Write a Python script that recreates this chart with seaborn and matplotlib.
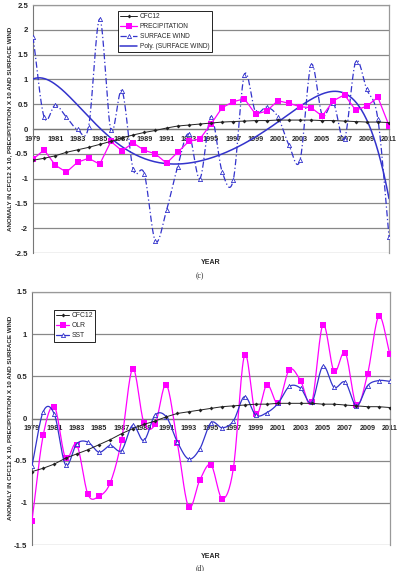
import numpy as np
import pandas as pd
import matplotlib
matplotlib.use("Agg")
import matplotlib.pyplot as plt
from matplotlib.lines import Line2D
import seaborn as sns

# ---- datos ----
years = list(range(1979, 2012))

cfc12 = [-0.63, -0.59, -0.54, -0.47, -0.42, -0.37, -0.31, -0.25, -0.18, -0.12,
         -0.07, -0.03, 0.02, 0.06, 0.08, 0.10, 0.12, 0.14, 0.15, 0.16,
         0.17, 0.17, 0.18, 0.18, 0.18, 0.18, 0.17, 0.17, 0.16, 0.15,
         0.14, 0.14, 0.13]

precipitation = [-0.61, -0.42, -0.73, -0.87, -0.67, -0.59, -0.71, -0.25, -0.44, -0.28,
                 -0.43, -0.50, -0.69, -0.47, -0.25, -0.20, 0.10, 0.43, 0.55, 0.61,
                 0.30, 0.36, 0.57, 0.52, 0.45, 0.43, 0.26, 0.57, 0.69, 0.38,
                 0.46, 0.64, 0.07]

surface_wind = [1.86, 0.24, 0.48, 0.24, -0.01, 0.05, 2.22, -0.02, 0.77, -0.81,
                -0.90, -2.26, -1.64, -0.76, -0.10, -1.00, 0.25, -0.86, -1.03, 1.09,
                0.35, 0.44, 0.25, -0.32, -0.63, 1.29, 0.28, 0.52, -0.20, 1.35,
                0.80, 0.20, -2.17]

olr = [-1.21, -0.20, 0.14, -0.47, -0.31, -0.90, -0.92, -0.76, -0.26, 0.59,
       -0.05, -0.07, 0.40, -0.29, -1.05, -0.73, -0.55, -0.95, -0.59, 0.75,
       0.05, 0.40, 0.18, 0.58, 0.45, 0.19, 1.11, 0.56, 0.78, 0.16,
       0.53, 1.21, 0.76]

sst = [-0.56, 0.08, 0.05, -0.55, -0.30, -0.28, -0.40, -0.32, -0.38, -0.08,
       -0.26, 0.04, 0.02, -0.28, -0.48, -0.36, -0.05, -0.11, -0.03, 0.26,
       0.04, 0.07, 0.18, 0.38, 0.36, 0.19, 0.62, 0.37, 0.43, 0.15,
       0.39, 0.45, 0.44]

year_ticks = list(range(1979, 2012, 2))
ylabel = "ANOMALY IN CFC12 X 10, PRECIPITATION X 10 AND SURFACE WIND"

MAGENTA = "#FF00FF"
AZUL = "#3333CC"
FUENTE = ["Liberation Sans", "DejaVu Sans"]


def suavizar(x, y, n=16):
    # curva tipo "linea suavizada" de Excel (Catmull-Rom)
    x = np.asarray(x, float)
    y = np.asarray(y, float)
    px = np.concatenate([[2 * x[0] - x[1]], x, [2 * x[-1] - x[-2]]])
    py = np.concatenate([[2 * y[0] - y[1]], y, [2 * y[-1] - y[-2]]])
    t = np.linspace(0, 1, n, endpoint=False)
    xs, ys = [], []
    for i in range(1, len(px) - 2):
        for p, out in ((px, xs), (py, ys)):
            p0, p1, p2, p3 = p[i - 1], p[i], p[i + 1], p[i + 2]
            out.extend(0.5 * (2 * p1 + (-p0 + p2) * t
                              + (2 * p0 - 5 * p1 + 4 * p2 - p3) * t ** 2
                              + (-p0 + 3 * p1 - 3 * p2 + p3) * t ** 3))
    xs.append(x[-1])
    ys.append(y[-1])
    return np.array(xs), np.array(ys)


def preparar_eje(ax, ylim, paso):
    ax.set_xlim(1979, 2011)
    ax.set_ylim(*ylim)
    ax.set_yticks(np.arange(ylim[0], ylim[1] + 0.01, paso))
    ax.yaxis.set_major_formatter(plt.FuncFormatter(lambda v, p: f"{v:g}"))
    ax.set_xticks(year_ticks)
    ax.grid(axis="y", color="#888888", linewidth=0.9)
    ax.grid(axis="x", visible=False)
    ax.spines["bottom"].set_position(("data", 0))
    ax.spines["bottom"].set_color("#777777")
    ax.spines["bottom"].set_linewidth(0.9)
    ax.spines["left"].set_color("#777777")
    for s in ("top", "right"):
        ax.spines[s].set_color("#999999")
        ax.spines[s].set_linewidth(0.9)
    ax.tick_params(axis="x", direction="inout", length=3, width=0.6,
                   color="#777777", pad=3.2, labelsize=5.2)
    ax.tick_params(axis="y", direction="out", length=2, width=0.6,
                   color="#777777", pad=1.5, labelsize=5.6)
    for lab in ax.get_xticklabels() + ax.get_yticklabels():
        lab.set_fontweight("bold")
    ax.set_xlabel("")
    ax.set_ylabel("")


sns.set_style("white")
plt.rcParams["font.family"] = FUENTE

fig = plt.figure(figsize=(3.99, 5.71), dpi=100)
ax1 = fig.add_axes([33 / 399, 1 - 253 / 571, 356 / 399, 248 / 571])
ax2 = fig.add_axes([32 / 399, 1 - 545 / 571, 358 / 399, 253 / 571])

# ---- panel (c) ----
df_c = pd.DataFrame({"year": years, "cfc12": cfc12,
                     "precip": precipitation, "wind": surface_wind})

# tendencia polinomica como la de Excel (x = 1..33)
coef = np.polyfit(df_c["year"] - 1978, df_c["wind"], 6)
xp = np.linspace(1979, 2011, 300)
yp = np.polyval(coef, xp - 1978)

xw, yw = suavizar(df_c["year"], df_c["wind"])
ax1.plot(xw, yw, color=AZUL, lw=0.9, ls=(0, (5, 2, 1, 2)), zorder=3)
sns.scatterplot(data=df_c, x="year", y="wind", ax=ax1, marker="^", s=9,
                facecolor="white", edgecolor=AZUL, linewidth=0.6, zorder=4)
sns.lineplot(x=xp, y=yp, ax=ax1, color=AZUL, lw=1.1, zorder=3)
sns.lineplot(data=df_c, x="year", y="precip", ax=ax1, color=MAGENTA, lw=0.9,
             marker="s", markersize=4, markeredgewidth=0, zorder=5)
sns.lineplot(data=df_c, x="year", y="cfc12", ax=ax1, color="#222222", lw=0.7,
             marker="D", markersize=2, markeredgewidth=0, zorder=6)
preparar_eje(ax1, (-2.5, 2.5), 0.5)

h1 = [Line2D([], [], color="#222222", lw=0.7, marker="D", ms=2, mew=0),
      Line2D([], [], color=MAGENTA, lw=0.9, marker="s", ms=4, mew=0),
      Line2D([], [], color=AZUL, lw=0.9, ls=(0, (5, 2, 1, 2)), marker="^",
             ms=3, mfc="white", mec=AZUL, mew=0.6),
      Line2D([], [], color=AZUL, lw=1.1)]
leg1 = ax1.legend(h1, ["CFC12", "PRECIPITATION", "SURFACE WIND",
                       "Poly. (SURFACE WIND)"],
                  loc="upper left", bbox_to_anchor=(0.239, 0.976),
                  borderaxespad=0, fontsize=4.7, handlelength=2.6,
                  handletextpad=0.4, labelspacing=0.45, borderpad=0.35,
                  fancybox=False, framealpha=1, edgecolor="black")
leg1.get_frame().set_linewidth(0.6)

# ---- panel (d) ----
df_d = pd.DataFrame({"year": years, "cfc12": cfc12, "olr": olr, "sst": sst})

xo, yo = suavizar(df_d["year"], df_d["olr"])
xs, ys = suavizar(df_d["year"], df_d["sst"])
ax2.plot(xo, yo, color=MAGENTA, lw=0.9, zorder=3)
sns.scatterplot(data=df_d, x="year", y="olr", ax=ax2, marker="s", s=16,
                color=MAGENTA, linewidth=0, zorder=4)
ax2.plot(xs, ys, color=AZUL, lw=0.9, zorder=5)
sns.scatterplot(data=df_d, x="year", y="sst", ax=ax2, marker="^", s=9,
                facecolor="white", edgecolor=AZUL, linewidth=0.6, zorder=6)
sns.lineplot(data=df_d, x="year", y="cfc12", ax=ax2, color="#222222", lw=0.7,
             marker="D", markersize=2, markeredgewidth=0, zorder=7)
preparar_eje(ax2, (-1.5, 1.5), 0.5)

h2 = [Line2D([], [], color="#222222", lw=0.7, marker="D", ms=2, mew=0),
      Line2D([], [], color=MAGENTA, lw=0.9, marker="s", ms=4, mew=0),
      Line2D([], [], color=AZUL, lw=0.9, marker="^", ms=3, mfc="white",
             mec=AZUL, mew=0.6)]
leg2 = ax2.legend(h2, ["CFC12", "OLR", "SST"], loc="upper left",
                  bbox_to_anchor=(0.061, 0.929), borderaxespad=0, fontsize=4.9,
                  handlelength=1.9, handletextpad=0.3, labelspacing=0.45,
                  borderpad=0.35, fancybox=False, framealpha=1,
                  edgecolor="black")
leg2.get_frame().set_linewidth(0.6)

# ---- textos ----
for yc, yy, cap, ycap in ((129, 263, "(c)", 276), (418, 557, "(d)", 568)):
    fig.text(9.5 / 399, 1 - yc / 571, ylabel, rotation=90, ha="center",
             va="center", fontsize=4.5, fontweight="bold")
    fig.text(211 / 399, 1 - yy / 571, "YEAR", ha="center", va="center",
             fontsize=5, fontweight="bold")
    fig.text(200 / 399, 1 - ycap / 571, cap, ha="center", va="center",
             fontsize=5.5, family=["Liberation Serif", "DejaVu Serif"])

fig.savefig("out.png", dpi=100)
